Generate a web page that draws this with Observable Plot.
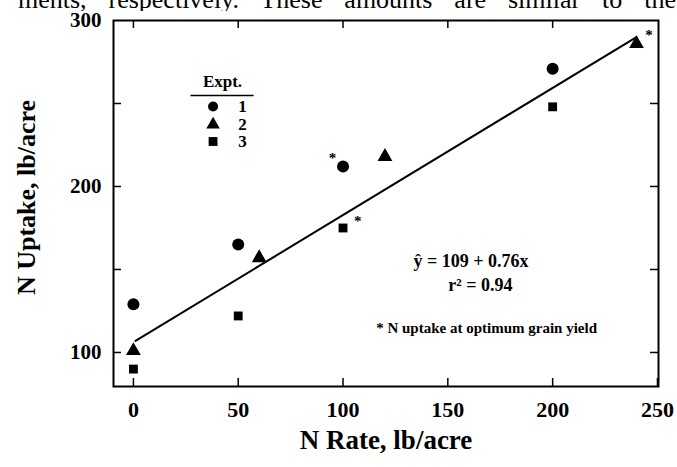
<!DOCTYPE html>
<html><head><meta charset="utf-8">
<script src="https://cdn.jsdelivr.net/npm/d3@7"></script>
<script src="https://cdn.jsdelivr.net/npm/@observablehq/plot@0.6"></script>
<style>
body{margin:0;background:#fff;}
#wrap{position:relative;width:677px;height:467px;overflow:hidden;background:#fff;}
#bodytext{position:absolute;left:18px;width:658px;top:-13px;height:24px;overflow:hidden;font:26px "Liberation Serif",serif;line-height:26px;text-align:justify;text-align-last:justify;color:#000;}
#chart{position:absolute;left:0;top:0;}
#chart svg{overflow:visible;}
</style>
</head><body>
<div id="wrap">
<div id="bodytext">ments, respectively. These amounts are similar to the</div>
<div id="chart"></div>
</div>
<script>
// ---- data ----
const xTicks = [0, 50, 100, 150, 200, 250];
const yLabelTicks = [100, 200, 300];
const yTicks = [100, 150, 200, 250];
const expt1X = [0, 50, 100, 200];
const expt1Y = [129, 165, 212, 271];
const expt2X = [0, 60, 120, 240];
const expt2Y = [101, 157, 218, 286];
const expt3X = [0, 50, 100, 200];
const expt3Y = [90, 122, 175, 248];
const starX = [95, 107, 246];
const starY = [219, 181, 293];
const fitX = [1, 240];
const fitY = [107, 290];
const legendLabels = ["1", "2", "3"];
const legendTitle = "Expt.";
const equationText = "ŷ = 109 + 0.76x";
const r2Text = "r² = 0.94";
const noteText = "* N uptake at optimum grain yield";
const xLabel = "N Rate, lb/acre";
const yLabel = "N Uptake, lb/acre";

// ---- build ----
const font = '"Liberation Serif", "Times New Roman", serif';
const pts = (xs, ys) => xs.map((x, i) => ({x, y: ys[i]}));
const e1 = pts(expt1X, expt1Y), e2 = pts(expt2X, expt2Y), e3 = pts(expt3X, expt3Y);
const stars = pts(starX, starY);
const fit = pts(fitX, fitY);

// legend placed in data space
const legX = 38, legLabX = 52;
const legY = [248.2, 237.3, 227.1];
const legendSyms = ["circle", "triangle", "square"];
const legendRows = legendLabels.map((l, i) => ({label: l, sym: legendSyms[i], x: legX, lx: legLabX, y: legY[i]}));

const W = 677, H = 467;
const plot = Plot.plot({
  width: W, height: H,
  marginLeft: 113, marginRight: 19, marginTop: 20, marginBottom: 81,
  x: {domain: [-9.5, 250.5]},
  y: {domain: [79.5, 300]},
  style: {fontFamily: font, background: "transparent", color: "#000"},
  marks: [
    Plot.frame({stroke: "#000", strokeWidth: 2}),
    // inward ticks
    Plot.tickX(xTicks, {x: d => d, insetTop: 358, stroke: "#000", strokeWidth: 1.5}),
    Plot.tickX(xTicks.slice(0, 5), {x: d => d, insetBottom: 358, stroke: "#000", strokeWidth: 1.5}),
    Plot.tickY(yTicks, {y: d => d, insetRight: 537, stroke: "#000", strokeWidth: 1.5}),
    Plot.tickY(yTicks, {y: d => d, insetLeft: 537, stroke: "#000", strokeWidth: 1.5}),
    // axis labels
    Plot.axisX(xTicks, {tickSize: 0, tickPadding: 15, fontSize: 22, fontWeight: "bold", label: null}),
    Plot.axisY(yLabelTicks, {tickSize: 0, tickPadding: 12, fontSize: 21, fontWeight: "bold", label: null}),
    Plot.text([xLabel], {frameAnchor: "bottom", dy: 62, fontSize: 27, fontWeight: "bold", text: d => d}),
    Plot.text([yLabel], {frameAnchor: "left", textAnchor: "middle", dx: -87, dy: -6, rotate: -90, fontSize: 26, fontWeight: "bold", text: d => d}),
    // regression line
    Plot.line(fit, {x: "x", y: "y", stroke: "#000", strokeWidth: 2}),
    // data
    Plot.dot(e1, {x: "x", y: "y", symbol: "circle", r: 6, fill: "#000"}),
    Plot.dot(e2, {x: "x", y: "y", symbol: "triangle", r: 5.5, fill: "#000"}),
    Plot.dot(e3, {x: "x", y: "y", symbol: "square", r: 5, fill: "#000"}),
    Plot.text(stars, {x: "x", y: "y", text: () => "*", fontSize: 15, fontWeight: "bold", dy: 3}),
    // legend
    Plot.text([legendTitle], {x: 42.5, y: 263, text: d => d, fontSize: 17, fontWeight: "bold"}),
    Plot.ruleY([254.8], {x1: 27.5, x2: 57.6, stroke: "#000", strokeWidth: 1.5}),
    Plot.dot(legendRows, {x: "x", y: "y", symbol: "sym", r: 5, fill: "#000"}),
    Plot.text(legendRows, {x: "lx", y: "y", text: "label", fontSize: 17, fontWeight: "bold"}),
    // annotations
    Plot.text([equationText], {x: 161, y: 154.8, text: d => d, fontSize: 18, fontWeight: "bold"}),
    Plot.text([r2Text], {x: 165.5, y: 140.8, text: d => d, fontSize: 18, fontWeight: "bold"}),
    Plot.text([noteText], {x: 168.5, y: 114.5, text: d => d, fontSize: 15, fontWeight: "bold"})
  ]
});
document.getElementById("chart").appendChild(plot);
</script>
</body></html>
